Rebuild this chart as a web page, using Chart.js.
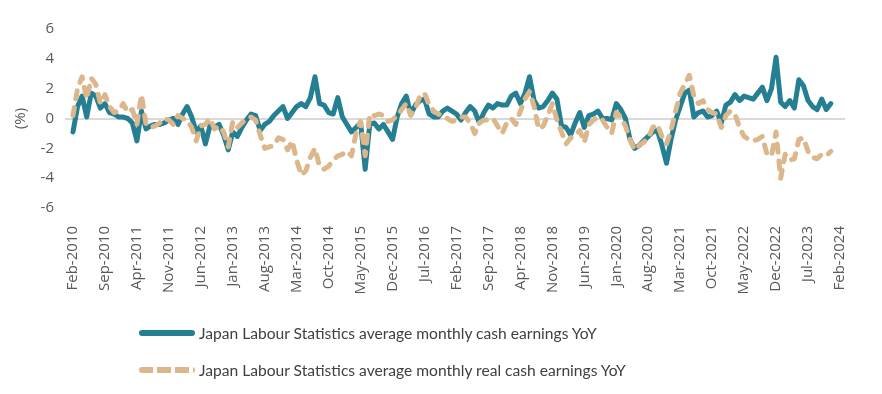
<!DOCTYPE html>
<html>
<head>
<meta charset="utf-8">
<script src="https://cdn.jsdelivr.net/npm/chart.js@4"></script>
<style>
  body { margin: 0; background: #fff; }
  #wrap { position: relative; width: 882px; height: 394px; }
  #legend { position: absolute; left: 139px; top: 320px; font-family: Lato, sans-serif; font-size: 15.6px; color: #404040; }
  .row { display: flex; align-items: center; height: 26px; margin-bottom: 11px; }
  .swatch { width: 56px; height: 6px; margin-right: 4px; }
  .solid { background: #247f92; border-radius: 3px; }
  .dash { background: repeating-linear-gradient(90deg, #dcb78c 0 14px, transparent 14px 18px); border-radius: 3px; }
</style>
</head>
<body>
<div id="wrap">
  <canvas id="myChart" width="882" height="394"></canvas>
  <div id="legend">
    <div class="row"><div class="swatch solid"></div><span>Japan Labour Statistics average monthly cash earnings YoY</span></div>
    <div class="row"><div class="swatch dash"></div><span>Japan Labour Statistics average monthly real cash earnings YoY</span></div>
  </div>
</div>
<script>
// tick labels, one every 7 months starting Feb-2010
const tickLabels = ['Feb-2010', 'Sep-2010', 'Apr-2011', 'Nov-2011', 'Jun-2012', 'Jan-2013', 'Aug-2013',
    'Mar-2014', 'Oct-2014', 'May-2015', 'Dec-2015', 'Jul-2016', 'Feb-2017', 'Sep-2017', 'Apr-2018',
    'Nov-2018', 'Jun-2019', 'Jan-2020', 'Aug-2020', 'Mar-2021', 'Oct-2021', 'May-2022', 'Dec-2022',
    'Jul-2023', 'Feb-2024'];
const tickStep = 7;

// monthly YoY %, Feb-2010 .. Dec-2023
const cashEarnings = [
    -0.9, 0.8, 1.5, 0.1, 1.7, 1.5, 0.7, 1.0, 0.4, 0.3, 0.1, 0.1,
    0.0, -0.3, -1.5, 0.5, -0.7, -0.5, -0.4, -0.4, -0.3, -0.1, 0.0, -0.4,
    0.3, 0.8, 0.1, -0.9, -0.5, -1.7, -0.5, -0.6, -0.4, -1.1, -2.1, -0.9,
    -1.2, -0.6, -0.1, 0.3, 0.2, -0.8, -0.4, -0.2, 0.2, 0.5, 0.8, 0.0,
    0.4, 0.8, 1.0, 0.8, 1.4, 2.8, 1.0, 0.9, 0.4, 0.3, 1.4, 0.1,
    -0.4, -0.9, -0.6, -0.3, -3.4, -0.4, -0.3, -0.7, -0.4, -0.9, -1.4, 0.1,
    1.0, 1.5, 0.3, 0.9, 1.2, 1.3, 0.3, 0.1, 0.1, 0.5, 0.7, 0.5,
    0.3, -0.1, 0.4, 0.8, 0.5, -0.3, 0.4, 0.9, 0.7, 1.0, 0.9, 0.9,
    1.5, 1.7, 1.0, 1.7, 2.8, 1.2, 0.7, 0.8, 1.2, 1.7, 1.3, -0.5,
    -0.6, -1.1, -0.3, 0.4, -0.6, 0.2, 0.3, 0.5, 0.0, 0.0, -0.1, 1.0,
    0.6, 0.0, -1.4, -2.0, -1.8, -1.5, -1.2, -0.9, -0.8, -1.8, -3.0, -1.4,
    -0.1, 0.8, 1.7, 1.9, 0.1, 0.4, 0.5, 0.1, 0.2, 0.5, -0.3, 0.9,
    1.1, 1.6, 1.2, 1.5, 1.4, 1.3, 1.7, 2.1, 1.2, 2.0, 4.1, 1.1,
    0.8, 1.2, 0.7, 2.6, 2.2, 1.2, 0.8, 0.6, 1.3, 0.6, 1.0
];
const realCashEarnings = [
    0.2, 2.0, 2.8, 1.3, 2.7, 2.3, 1.0, 1.6, 0.8, 0.4, 0.5, 1.0,
    0.4, 0.6, -0.4, 1.6, -0.4, -0.6, -0.5, -0.3, 0.0, -0.1, -0.4, 0.2,
    0.0, -0.1, -0.6, -1.5, -0.5, -0.4, 0.0, -0.7, -0.5, -0.9, -1.9, -0.2,
    -0.6, -0.3, 0.0, 0.1, -0.1, -1.1, -2.0, -1.9, -1.8, -1.3, -1.4, -2.1,
    -1.5, -2.8, -3.8, -3.5, -2.6, -2.0, -3.2, -3.4, -3.2, -2.8, -2.5, -2.4,
    -2.2, -2.5, -1.0, -0.2, -2.5, 0.3, 0.2, 0.3, 0.2, -0.2, -0.1, 0.2,
    0.6, 1.0, 0.2, 0.7, 1.5, 1.7, 0.9, 0.5, 0.3, 0.2, 0.0, -0.2,
    -0.1, 0.1, 0.1, -0.3, -1.0, -0.3, -0.1, -0.1, 0.0, -0.5, -1.0, -0.3,
    0.0, -0.4, 0.5, 1.3, 1.8, 0.8, -0.7, -0.5, 0.2, 1.0, -0.1, -0.9,
    -1.7, -1.3, -1.1, -0.8, -1.6, -0.4, -0.1, 0.1, -0.1, -0.6, -1.0, 0.4,
    0.1, -0.5, -1.4, -2.1, -1.8, -1.6, -1.3, -0.6, -0.4, -1.2, -1.7, -0.8,
    0.5, 1.7, 2.3, 2.9, 1.5, 1.0, 1.2, 0.6, 0.4, 0.3, -0.6, 0.2,
    0.5, 0.3, -0.6, -1.2, -1.4, -1.5, -1.4, -1.2, -2.4, -2.5, -0.9, -4.0,
    -2.4, -2.8, -2.7, -1.4, -1.3, -2.2, -2.6, -2.7, -2.4, -2.5, -2.2
];

function toPoints(values) {
    return values.map((v, i) => ({ x: i, y: v }));
}

const ctx = document.getElementById('myChart');

new Chart(ctx, {
    type: 'line',
    data: {
        datasets: [{
            label: 'Japan Labour Statistics average monthly cash earnings YoY',
            data: toPoints(cashEarnings),
            borderColor: '#247f92',
            borderWidth: 5,
            borderJoinStyle: 'round',
            borderCapStyle: 'round',
            pointRadius: 0,
            tension: 0,
            order: 1
        }, {
            label: 'Japan Labour Statistics average monthly real cash earnings YoY',
            data: toPoints(realCashEarnings),
            borderColor: '#dcb78c',
            borderWidth: 5,
            borderDash: [8, 9],
            borderJoinStyle: 'round',
            borderCapStyle: 'round',
            pointRadius: 0,
            tension: 0,
            order: 0
        }]
    },
    options: {
        responsive: false,
        animation: false,
        layout: { padding: { top: 29, right: 37, bottom: 90, left: 0 } },
        plugins: {
            legend: { display: false },
            tooltip: { enabled: false }
        },
        scales: {
            x: {
                type: 'linear',
                min: -1.75,
                max: 169.1,
                border: { display: false },
                grid: { display: false },
                afterBuildTicks: (scale) => {
                    scale.ticks = tickLabels.map((t, i) => ({ value: i * tickStep }));
                },
                afterFit: (scale) => { scale.height = 96; },
                ticks: {
                    minRotation: 90,
                    maxRotation: 90,
                    padding: 10,
                    color: '#595959',
                    font: { family: 'Open Sans', size: 15 },
                    callback: (value) => tickLabels[Math.round(value / tickStep)]
                }
            },
            y: {
                min: -6,
                max: 6,
                border: { display: false },
                grid: {
                    drawTicks: false,
                    lineWidth: (c) => c.tick.value === 0 ? 2 : 0,
                    color: '#d9d9d9'
                },
                afterFit: (scale) => { scale.width = 65; },
                ticks: {
                    stepSize: 2,
                    padding: 11,
                    color: '#595959',
                    font: { family: 'Open Sans', size: 15 }
                },
                title: {
                    display: true,
                    text: '(%)',
                    color: '#595959',
                    font: { family: 'Open Sans', size: 15 },
                    padding: { top: 12, bottom: 0 }
                }
            }
        }
    }
});
</script>
</body>
</html>
